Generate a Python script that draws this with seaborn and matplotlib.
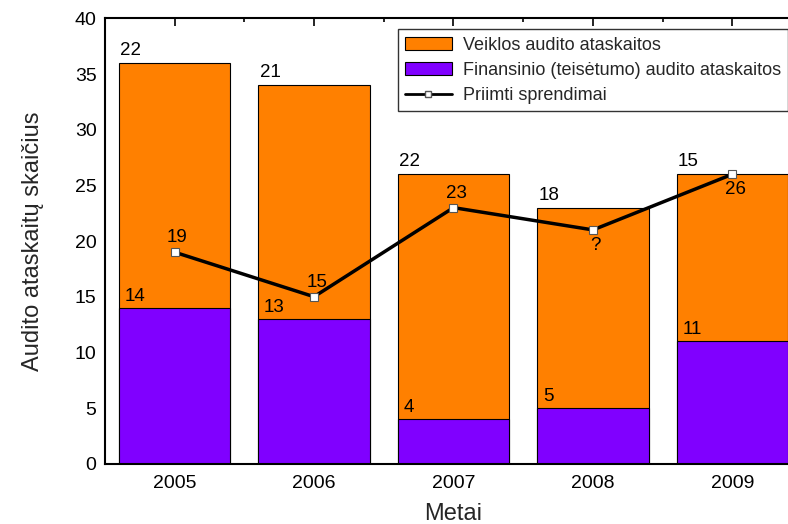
import matplotlib
matplotlib.use("Agg")
import matplotlib.pyplot as plt
from matplotlib.ticker import MultipleLocator, FixedLocator
from matplotlib.lines import Line2D
from matplotlib.patches import Patch
import pandas as pd
import seaborn as sns

# data
years = ["2005", "2006", "2007", "2008", "2009"]
finansinio = [14, 13, 4, 5, 11]
veiklos = [22, 21, 22, 18, 15]
sprendimai = [19, 15, 23, 21, 26]
sprendimai_labels = ["19", "15", "23", "?", "26"]

totals = [f + v for f, v in zip(finansinio, veiklos)]

sns.set_theme(style="white")
plt.rcParams["font.family"] = ["Liberation Sans", "DejaVu Sans"]

fig = plt.figure(figsize=(7.88, 5.24), dpi=100)
ax = fig.add_axes([0.133, 0.115, 0.885, 0.85])

orange = "#FF8000"
purple = "#8000FF"

df_tot = pd.DataFrame({"year": years, "value": totals})
df_fin = pd.DataFrame({"year": years, "value": finansinio})

# stacked bars: full height in orange, purple part drawn over it
sns.barplot(data=df_tot, x="year", y="value", color=orange, width=0.8,
            edgecolor="black", linewidth=0.8, saturation=1, ax=ax)
sns.barplot(data=df_fin, x="year", y="value", color=purple, width=0.8,
            edgecolor="black", linewidth=0.8, saturation=1, ax=ax)

x = list(range(len(years)))
ax.plot(x, sprendimai, color="black", linewidth=2.5, zorder=4)
ax.plot(x, sprendimai, linestyle="none", marker="s", markersize=6,
        markerfacecolor="white", markeredgecolor="#555555",
        markeredgewidth=0.8, zorder=5)

# value labels
fs = 13.5
for i in x:
    ax.text(i - 0.39, totals[i] + 0.35, str(veiklos[i]), ha="left",
            va="bottom", fontsize=fs, color="black")
    ax.text(i - 0.36, finansinio[i] + 0.25, str(finansinio[i]), ha="left",
            va="bottom", fontsize=fs, color="black")
    if i in (3, 4):
        ax.text(i + 0.02, sprendimai[i] - 0.6, sprendimai_labels[i],
                ha="center", va="top", fontsize=fs, color="black")
    else:
        ax.text(i + 0.02, sprendimai[i] + 0.55, sprendimai_labels[i],
                ha="center", va="bottom", fontsize=fs, color="black")

ax.set_xlim(-0.5, 4.5)
ax.set_ylim(0, 40)
ax.yaxis.set_major_locator(MultipleLocator(5))
ax.yaxis.set_minor_locator(MultipleLocator(2.5))
ax.xaxis.set_minor_locator(FixedLocator([0.5, 1.5, 2.5, 3.5]))
ax.tick_params(axis="both", which="both", direction="in", top=True,
               right=True, colors="black", labelsize=14)
ax.tick_params(axis="both", which="major", length=6, width=1.2)
ax.tick_params(axis="both", which="minor", length=3, width=1.2)
ax.tick_params(axis="x", which="major", pad=8)
ax.tick_params(axis="y", which="major", pad=6)
for s in ax.spines.values():
    s.set_color("black")
    s.set_linewidth(1.5)

ax.set_xlabel("Metai", fontsize=17, labelpad=8)
ax.set_ylabel("Audito ataskaitų skaičius", fontsize=17, labelpad=22)

handles = [
    Patch(facecolor=orange, edgecolor="black", linewidth=0.8),
    Patch(facecolor=purple, edgecolor="black", linewidth=0.8),
    Line2D([0], [0], color="black", linewidth=2, marker="s", markersize=5,
           markerfacecolor="white", markeredgecolor="#555555"),
]
labels = ["Veiklos audito ataskaitos",
          "Finansinio (teisėtumo) audito ataskaitos",
          "Priimti sprendimai"]
leg = ax.legend(handles, labels, loc="upper left",
                bbox_to_anchor=(0.42, 0.975), borderaxespad=0,
                fontsize=13, frameon=True, fancybox=False,
                edgecolor="black", handlelength=2.6, handletextpad=0.6,
                borderpad=0.4, labelspacing=0.45)
leg.get_frame().set_linewidth(1.0)

fig.savefig("out.png", dpi=100)
